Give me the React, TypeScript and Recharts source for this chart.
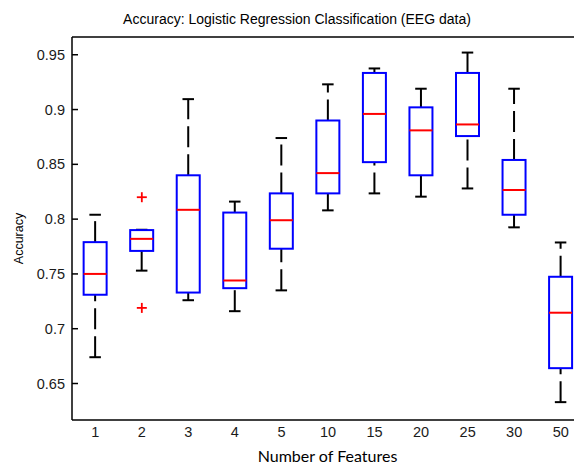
import React from "react";
import {
  ComposedChart,
  Bar,
  Scatter,
  XAxis,
  YAxis,
  ReferenceLine,
} from "recharts";

// Number of features tested
const categories = ["1", "2", "3", "4", "5", "10", "15", "20", "25", "30", "50"];

// Box plot statistics per category
const whiskerLow = [0.674, 0.753, 0.726, 0.716, 0.735, 0.808, 0.8235, 0.8205, 0.828, 0.7925, 0.633];
const quartile1 = [0.731, 0.771, 0.733, 0.737, 0.773, 0.8235, 0.852, 0.84, 0.8758, 0.804, 0.664];
const medians = [0.75, 0.782, 0.8085, 0.744, 0.799, 0.842, 0.896, 0.881, 0.8864, 0.8266, 0.7146];
const quartile3 = [0.779, 0.79, 0.84, 0.806, 0.8235, 0.89, 0.9334, 0.902, 0.9334, 0.854, 0.7474];
const whiskerHigh = [0.804, 0.7903, 0.9095, 0.816, 0.874, 0.923, 0.9375, 0.919, 0.952, 0.919, 0.7787];

// Outliers (only the 2-feature run has any)
const outlierHigh = [null, 0.82, null, null, null, null, null, null, null, null, null];
const outlierLow = [null, 0.719, null, null, null, null, null, null, null, null, null];

const yTicks = [0.65, 0.7, 0.75, 0.8, 0.85, 0.9, 0.95];
const Y_MIN = 0.6167;
const Y_MAX = 0.9662;

const data = categories.map((cat, i) => ({
  cat,
  low: whiskerLow[i],
  q1: quartile1[i],
  med: medians[i],
  q3: quartile3[i],
  high: whiskerHigh[i],
  outHi: outlierHigh[i],
  outLo: outlierLow[i],
}));

const FONT = "'Liberation Sans', Arial, sans-serif";

// Draws whiskers, caps, box and median inside the range [low, high] bar
const BoxShape = (props: any) => {
  const { x, y, width, height, payload } = props;
  const { low, q1, med, q3, high } = payload;
  const top = Math.min(y, y + height);
  const bottom = Math.max(y, y + height);
  const py = (v: number) => bottom - ((v - low) / (high - low)) * (bottom - top);
  const cx = x + width / 2;
  const cap = width / 4;
  return (
    <g>
      <line x1={cx} x2={cx} y1={py(low)} y2={py(q1)} stroke="#000" strokeWidth={2} strokeDasharray="21 7" />
      <line x1={cx} x2={cx} y1={py(q3)} y2={py(high)} stroke="#000" strokeWidth={2} strokeDasharray="21 7" />
      <line x1={cx - cap} x2={cx + cap} y1={py(low)} y2={py(low)} stroke="#000" strokeWidth={2} />
      <line x1={cx - cap} x2={cx + cap} y1={py(high)} y2={py(high)} stroke="#000" strokeWidth={2} />
      <rect x={x} y={py(q3)} width={width} height={py(q1) - py(q3)} fill="none" stroke="#0000ff" strokeWidth={2} />
      <line x1={x} x2={x + width} y1={py(med)} y2={py(med)} stroke="#ff0000" strokeWidth={2} />
    </g>
  );
};

const PlusShape = (props: any) => {
  const { cx, cy } = props;
  if (cx == null || cy == null || isNaN(cy)) return null;
  return (
    <g>
      <line x1={cx - 5} x2={cx + 5} y1={cy} y2={cy} stroke="#ff0000" strokeWidth={1.8} />
      <line x1={cx} x2={cx} y1={cy - 5} y2={cy + 5} stroke="#ff0000" strokeWidth={1.8} />
    </g>
  );
};

const YTick = (props: any) => {
  const { x, y, payload } = props;
  return (
    <g>
      <text x={x} y={y} dy="0.355em" textAnchor="end" fontSize={14.5} fontFamily={FONT} fill="#1a1a1a">
        {String(payload.value)}
      </text>
      <line x1={x + 7} x2={x + 13} y1={y} y2={y} stroke="#000" strokeWidth={1.5} />
    </g>
  );
};

export default function App() {
  return (
    <div
      style={{
        position: "absolute",
        left: 0,
        top: 0,
        width: 574,
        height: 464,
        overflow: "hidden",
        background: "#fff",
      }}
    >
      <ComposedChart
        width={600}
        height={464}
        data={data}
        barCategoryGap="25%"
        margin={{ top: 37, right: 16, bottom: 0, left: 0 }}
      >
        <XAxis
          dataKey="cat"
          height={44}
          tickLine={false}
          tickSize={0}
          tickMargin={7}
          axisLine={{ stroke: "#000", strokeWidth: 1.5 }}
          tick={{ fontSize: 14.5, fontFamily: FONT, fill: "#1a1a1a" }}
        />
        <YAxis
          type="number"
          width={72}
          domain={[Y_MIN, Y_MAX]}
          ticks={yTicks}
          tickLine={false}
          tickSize={0}
          tickMargin={7}
          axisLine={{ stroke: "#000", strokeWidth: 1.5 }}
          tick={<YTick />}
        />
        <ReferenceLine y={Y_MAX} stroke="#000" strokeWidth={1.5} />
        <Bar
          dataKey={(d: any) => [d.low, d.high]}
          shape={<BoxShape />}
          isAnimationActive={false}
        />
        <Scatter dataKey="outHi" shape={<PlusShape />} isAnimationActive={false} />
        <Scatter dataKey="outLo" shape={<PlusShape />} isAnimationActive={false} />
      </ComposedChart>
      <svg
        width={574}
        height={464}
        style={{ position: "absolute", left: 0, top: 0, pointerEvents: "none" }}
      >
        <text x={297} y={23.5} textAnchor="middle" fontSize={14} fontFamily={FONT} fill="#000">
          Accuracy: Logistic Regression Classification (EEG data)
        </text>
        <text
          transform="translate(23,238.5) rotate(-90)"
          textAnchor="middle"
          fontSize={12.5}
          fontFamily={FONT}
          fill="#000"
        >
          Accuracy
        </text>
        <text x={327.5} y={461.5} textAnchor="middle" fontSize={16} fontFamily="Lato, 'Open Sans', sans-serif" fill="#000">
          Number of Features
        </text>
      </svg>
    </div>
  );
}
